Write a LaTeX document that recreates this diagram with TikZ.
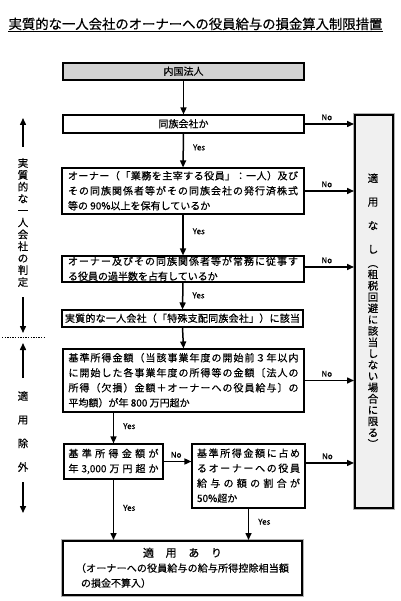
\documentclass[tikz,border=0pt]{standalone}
\usepackage{fontspec}
\setmainfont{Noto Sans CJK JP}[FakeBold=0.5]
\usetikzlibrary{arrows.meta,shadows,calc}
\makeatletter
\newcommand\jl[2]{\makebox[#1][s]{\@tfor\jlx:=#2\do{\jlx\hfil}\unskip}}
\makeatother
\newcommand\tl[1]{\hbox{\vrule height 8.5pt depth 1.5pt width 0pt #1}}
\newcommand\lns[1]{\vbox{\baselineskip=15pt\lineskiplimit=-100pt\lineskip=0pt #1}}
\begin{document}
\begin{tikzpicture}[x=1pt,y=-1pt,
 box/.style={draw=black,line width=1.1pt,fill=white,inner sep=0pt,
   font=\fontsize{10}{15}\selectfont,
   drop shadow={shadow xshift=1.4pt,shadow yshift=-1.4pt,fill=gray!75,opacity=1}},
 heavy/.style={draw=black,line width=2pt,inner sep=0pt,
   font=\fontsize{10}{15}\selectfont,
   preaction={draw=gray!60,line width=3.8pt}},
 arr/.style={line width=1.5pt,-{Triangle[length=7pt,width=6pt]}},
 lab/.style={font=\fontsize{8}{9}\selectfont,inner sep=0pt},
 yes/.style={lab,anchor=west,xshift=9pt},
 no/.style={lab,anchor=south,yshift=3pt},
 vt/.style={align=center,inner sep=0pt},
]
\useasboundingbox (0,0) rectangle (400,601);
\fill[white] (0,0) rectangle (400,601);

% title
\node[anchor=base,inner sep=0pt,font=\fontsize{13.35}{16}\selectfont] (title) at (195.5,29)
  {実質的な一人会社のオーナーへの役員給与の損金算入制限措置};
\draw[line width=0.9pt] ([yshift=-2.5pt]title.base west) -- ([yshift=-2.5pt]title.base east);

% boxes
\node[box,fill=gray!35,minimum width=241pt,minimum height=17pt] (b1) at (183.5,71.5) {\tl{内国法人}};
\node[box,minimum width=241pt,minimum height=18pt] (b2) at (183.5,124) {\tl{同族会社か}};
\node[box,minimum width=242pt,minimum height=46pt] (b3) at (183,191)
  {\lns{\tl{\jl{230pt}{オーナー（「業務を主宰する役員」：一人）及び}}
   \tl{\jl{230pt}{その同族関係者等がその同族会社の発行済株式}}
   \tl{等の 90\%以上を保有しているか}}};
\node[box,minimum width=242pt,minimum height=26pt] (b4) at (183,269)
  {\lns{\tl{\jl{230pt}{オーナー及びその同族関係者等が常務に従事す}}
   \tl{る役員の過半数を占有しているか}}};
\node[box,minimum width=241pt,minimum height=17pt] (b5) at (182.5,318.5)
  {\tl{\jl{235pt}{実質的な一人会社（「特殊支配同族会社」）に該当}}};
\node[box,minimum width=241pt,minimum height=63pt] (b6) at (183.5,380.5)
  {\lns{\tl{\jl{230pt}{基準所得金額（当該事業年度の開始前３年以内}}
   \tl{\jl{230pt}{に開始した各事業年度の所得等の金額〔法人の}}
   \tl{\jl{230pt}{所得（欠損）金額＋オーナーへの役員給与〕の}}
   \tl{平均額）が年 800 万円超か}}};
\node[box,minimum width=99pt,minimum height=35pt] (b7) at (113.5,461.5)
  {\lns{\tl{\jl{90pt}{基準所得金額が}}
   \tl{\jl{90pt}{年{3,000}万円超か}}}};
\node[box,minimum width=113pt,minimum height=64pt] (b8) at (248.5,476)
  {\lns{\tl{\jl{103pt}{基準所得金額に占め}}
   \tl{\jl{103pt}{るオーナーへの役員}}
   \tl{\jl{103pt}{給与の額の割合が}}
   \tl{50\%超か}}};
\node[heavy,fill=white,minimum width=239pt,minimum height=54pt] (b9) at (182.5,568)
  {\lns{\tl{\makebox[213pt]{\fontsize{11}{15}\selectfont\jl{79pt}{適用あり}}}
   \tl{\jl{213pt}{（オーナーへの役員給与の給与所得控除相当額}}
   \tl{\hspace*{5pt}の損金不算入）}}};
\node[heavy,fill=gray!12,minimum width=38pt,minimum height=393pt] (R) at (374,311.5) {};
\node[vt,font=\fontsize{10.5}{23.7}\selectfont] (r1) at (373,213.5) {適\\用\\な\\し};
\node[vt,font=\fontsize{10.5}{11.3}\selectfont] (r2) at (373,356.5)
  {︵\\租\\税\\回\\避\\に\\該\\当\\し\\な\\い\\場\\合\\に\\限\\る\\︶};

% left side annotations
\node[vt,font=\fontsize{10.5}{11.9}\selectfont] (s1) at (23,222.5)
  {実\\質\\的\\な\\一\\人\\会\\社\\の\\判\\定};
\node[vt,font=\fontsize{10.5}{23.7}\selectfont] (s2) at (23,431.5) {適\\用\\除\\外};
\coordinate (a1s) at (23,147); \coordinate (a1e) at (23,118);
\coordinate (a2s) at (23,297); \coordinate (a2e) at (23,333);
\coordinate (a3s) at (23,378); \coordinate (a3e) at (23,343);
\coordinate (a4s) at (23,482); \coordinate (a4e) at (23,513);
\coordinate (d1) at (2,337); \coordinate (d2) at (45,337);
\draw[arr] (a1s) -- (a1e);
\draw[arr] (a2s) -- (a2e);
\draw[arr] (a3s) -- (a3e);
\draw[arr] (a4s) -- (a4e);
\draw[line width=1pt,dash pattern=on 1.4pt off 1.2pt] (d1) -- (d2);

% vertical connectors
\draw[arr] (b1.south) -- (b2.north);
\draw[arr] (b2.south) -- node[yes,pos=0.41]{Yes} (b3.north);
\draw[arr] (b3.south) -- node[yes,pos=0.41]{Yes} (b4.north);
\draw[arr] (b4.south) -- node[yes,pos=0.48]{Yes} (b5.north);
\draw[arr] (b5.south) -- (b6.north);
\draw[arr] (b6.south -| b7.north) -- node[yes,pos=0.44]{Yes} (b7.north);
\draw[arr] (b7.south) -- node[yes,pos=0.47]{Yes} (b7.south |- b9.north);
\draw[arr] (b8.south) -- node[yes,pos=0.42]{Yes} (b8.south |- b9.north);
\draw[arr] (b7.east) -- node[no,pos=0.45]{No} (b7.east -| b8.west);

% No connectors to the right box
\coordinate (n4) at ([yshift=2pt]b4.east);
\coordinate (n8) at ($(b8.north east)!0.3!(b8.south east)$);
\draw[arr] (b2.east) -- node[no,pos=0.45]{No} (b2.east -| R.west);
\draw[arr] (b3.east) -- node[no,pos=0.45]{No} (b3.east -| R.west);
\draw[arr] (n4) -- node[no,pos=0.45]{No} (n4 -| R.west);
\draw[arr] (b6.east) -- node[no,pos=0.45]{No} (b6.east -| R.west);
\draw[arr] (n8) -- node[no,pos=0.45]{No} (n8 -| R.west);
\end{tikzpicture}
\end{document}
